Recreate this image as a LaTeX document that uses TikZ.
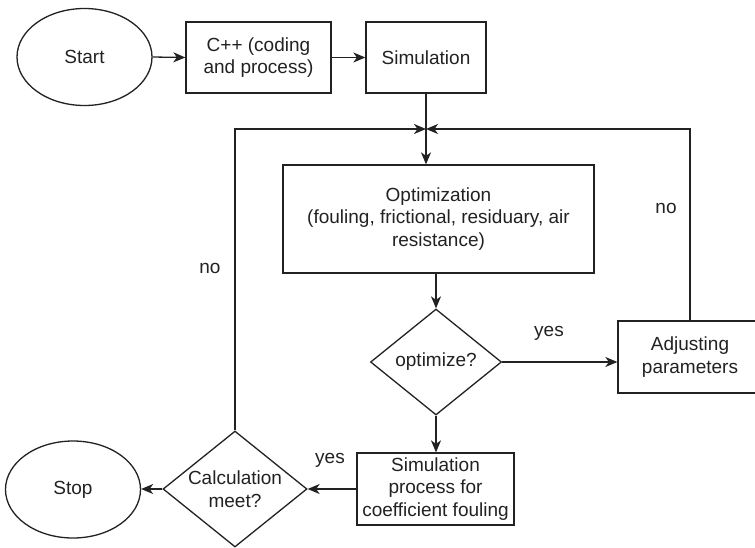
\documentclass[tikz,border=0pt]{standalone}
\usepackage{fontspec}
\setmainfont{Liberation Sans}
\usetikzlibrary{shapes.geometric,arrows.meta}
\definecolor{ink}{HTML}{222222}
\tikzset{
  base/.style={draw=ink, line width=1.3pt, text=ink, inner sep=0pt, align=center,
    font=\fontsize{19}{22.5}\selectfont},
  term/.style={base, ellipse, minimum width=135, minimum height=97},
  proc/.style={base, rectangle},
  dec/.style={base, diamond},
  lbl/.style={text=ink, font=\fontsize{19}{22.5}\selectfont, inner sep=0pt},
  arr/.style={draw=ink, line width=1.3pt, -{Stealth[length=12pt,width=10pt,inset=3.5pt]}},
}
\begin{document}
\begin{tikzpicture}[x=1pt,y=-1pt]
\useasboundingbox (0,0) rectangle (755,547);
\fill[white] (0,0) rectangle (755,547);
\clip (0,0) rectangle (755,547);
\node[term] (start) at (84.5,57) {Start};
\node[proc, minimum width=145, minimum height=71] (cpp) at (258.5,57.5) {C++ (coding\\and process)};
\node[proc, minimum width=120, minimum height=71] (sim) at (426,57.5) {Simulation};
\coordinate (j) at (426,129);
\node[proc, minimum width=311, minimum height=108] (opt) at (438.5,219) {Optimization\\(fouling, frictional, residuary, air\\resistance)};
\node[dec, minimum width=131, minimum height=106, label={[lbl]center:optimize?}] (optd) at (436,362) {};
\node[proc, minimum width=144, minimum height=72] (adj) at (690,357) {Adjusting\\parameters};
\node[proc, minimum width=157, minimum height=72] (spc) at (435.5,489) {Simulation\\process for\\coefficient fouling};
\node[dec, minimum width=144, minimum height=116, label={[lbl, align=center]center:Calculation\\meet?}] (calc) at (235,489) {};
\node[term] (stop) at (73,489.5) {Stop};

\draw[arr] (start.east) -- (cpp.west);
\draw[arr] (cpp.east) -- (sim.west);
\draw[arr] (sim.south) -- (sim.south |- opt.north);
\draw[arr] (calc.north) |- (j);
\draw[arr] (adj.north) |- (j);
\draw[arr] (opt.south -| optd.north) -- (optd.north);
\draw[arr] (optd.east) -- (optd.east -| adj.west);
\draw[arr] (optd.south) -- (optd.south |- spc.north);
\draw[arr] (spc.west) -- (spc.west -| calc.east);
\draw[arr] (calc.west) -- (calc.west -| stop.east);

\node[lbl] (yes1) at (549,333) {yes};
\node[lbl] (yes2) at (330,460) {yes};
\node[lbl] (no1) at (210,268) {no};
\node[lbl] (no2) at (666,208) {no};
\end{tikzpicture}
\end{document}
